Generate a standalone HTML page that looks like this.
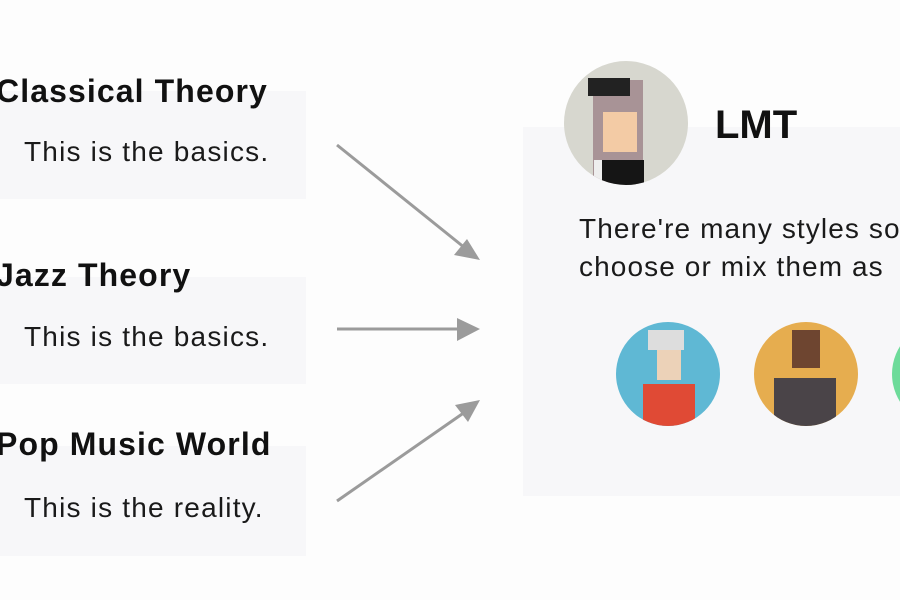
<!DOCTYPE html>
<html><head><style>
body{margin:0;width:900px;height:600px;background:#fdfdfd;position:relative;overflow:hidden;font-family:"Liberation Sans","Noto Sans CJK JP",sans-serif;color:#111}
.box{position:absolute;left:0;width:306px;background:#f7f7f9}
.t{position:absolute;font-weight:bold;font-size:32px;letter-spacing:1.1px;white-space:nowrap}
.b{position:absolute;left:24px;font-size:28px;letter-spacing:1.2px;white-space:nowrap;color:#1a1a1a}
</style></head><body>
<div class="box" style="top:91px;height:108px"></div>
<div class="box" style="top:277px;height:107px"></div>
<div class="box" style="top:446px;height:110px"></div>
<div class="t" style="left:-4px;top:73px">Classical Theory</div>
<div class="b" style="top:136px">This is the basics.</div>
<div class="t" style="left:-4px;top:257px">Jazz Theory</div>
<div class="b" style="top:321px">This is the basics.</div>
<div class="t" style="left:-4px;top:426px">Pop Music World</div>
<div class="b" style="top:492px">This is the reality.</div>
<div style="position:absolute;left:523px;top:127px;width:380px;height:369px;background:#f7f7f9"></div>
<svg width="900" height="600" style="position:absolute;left:0;top:0">
<defs>
<clipPath id="c1"><circle cx="626" cy="123" r="62"/></clipPath>
<clipPath id="c2"><circle cx="668" cy="374" r="52"/></clipPath>
<clipPath id="c3"><circle cx="806" cy="374" r="52"/></clipPath>
</defs>
<g stroke="#9b9b9b" stroke-width="3" fill="#9b9b9b">
<line x1="337" y1="145" x2="465" y2="248"/>
<polygon points="480,260 454,255 467,239" stroke="none"/>
<line x1="337" y1="329" x2="462" y2="329"/>
<polygon points="480,329 457,318 457,341" stroke="none"/>
<line x1="337" y1="501" x2="465" y2="412"/>
<polygon points="480,400 468,422 455,405" stroke="none"/>
</g>
<circle cx="626" cy="123" r="62" fill="#d7d7cf"/>
<g clip-path="url(#c1)">
<rect x="593" y="80" width="50" height="102" fill="#a89396"/>
<rect x="603" y="112" width="34" height="40" fill="#f3cba5"/>
<rect x="588" y="78" width="42" height="18" fill="#222"/>
<rect x="602" y="160" width="42" height="30" fill="#151515"/>
<rect x="594" y="160" width="8" height="30" fill="#eee"/>
</g>
<circle cx="668" cy="374" r="52" fill="#5fb8d4"/>
<g clip-path="url(#c2)">
<rect x="643" y="384" width="52" height="50" fill="#e04a35"/>
<rect x="657" y="350" width="24" height="30" fill="#ecd2b8"/>
<rect x="648" y="330" width="36" height="20" fill="#ddd"/>
</g>
<circle cx="806" cy="374" r="52" fill="#e6ad4f"/>
<g clip-path="url(#c3)">
<rect x="774" y="378" width="62" height="56" fill="#4a4448"/>
<rect x="792" y="330" width="28" height="38" fill="#6e4530"/>
</g>
<circle cx="944" cy="374" r="52" fill="#6ddb9a"/>
</svg>
<div style="position:absolute;left:715px;top:103px;font-weight:bold;font-size:40px">LMT</div>
<div style="position:absolute;left:579px;top:210px;font-size:28px;letter-spacing:1.1px;line-height:38px;white-space:nowrap;color:#1a1a1a">There're many styles so<br>choose or mix them as</div>
</body></html>
